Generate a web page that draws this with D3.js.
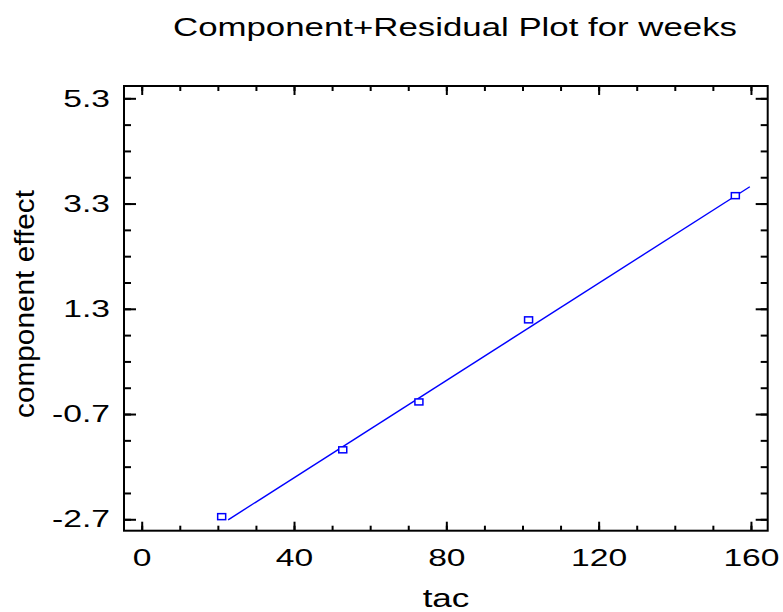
<!DOCTYPE html>
<html>
<head>
<meta charset="utf-8">
<script src="https://cdn.jsdelivr.net/npm/d3@7"></script>
<style>
  body { margin: 0; background: #fff; }
  svg { display: block; }
  text { font-family: Arial, "Liberation Sans", sans-serif; fill: #000; }
</style>
</head>
<body>
<div id="chart"></div>
<script>
// data
const tac = [21.0, 52.8, 72.8, 101.6, 155.9];
const effect = [-2.65, -1.38, -0.47, 1.09, 3.45];
// fitted component line (end points)
const fitTac = [22.7, 159.7];
const fitEffect = [-2.71, 3.62];
// tick values
const xMajor = [0, 40, 80, 120, 160];
const xMinor = d3.range(0, 161, 10);
const yMajor = [-2.7, -0.7, 1.3, 3.3, 5.3];
const yMinor = d3.range(-2.7, 5.31, 0.5);

const W = 783, H = 612;
const box = { left: 124, right: 767.7, top: 86, bottom: 530.7 };
const stretch = 1.4; // text in the picture is wide

const svg = d3.select("#chart").append("svg")
  .attr("width", W)
  .attr("height", H);

const x = d3.scaleLinear().domain([-4.65, 164.4]).range([box.left, box.right]);
const y = d3.scaleLinear().domain([-2.917, 5.534]).range([box.bottom, box.top]);

function widen(sel, f) {
  sel.each(function () {
    const w = this.getComputedTextLength();
    this.setAttribute("textLength", w * f);
    this.setAttribute("lengthAdjust", "spacingAndGlyphs");
  });
}

function styleAxis(g) {
  g.select(".domain").remove();
  g.selectAll("line").attr("stroke", "#000").attr("stroke-width", 2);
  g.attr("font-family", null).attr("font-size", null);
  g.selectAll("text").style("font-size", "24px");
}

const yFmt = d => d.toFixed(1); // plain hyphen minus like the original

// bottom axis: minor then major with labels
svg.append("g").attr("transform", `translate(0,${box.bottom})`)
  .call(d3.axisBottom(x).tickValues(xMinor).tickFormat("").tickSizeInner(-5).tickSizeOuter(0))
  .call(styleAxis);
const xAx = svg.append("g").attr("transform", `translate(0,${box.bottom})`)
  .call(d3.axisBottom(x).tickValues(xMajor).tickFormat(d => String(d)).tickSizeInner(-9).tickSizeOuter(0).tickPadding(18))
  .call(styleAxis);

// top axis mirror
svg.append("g").attr("transform", `translate(0,${box.top})`)
  .call(d3.axisTop(x).tickValues(xMinor).tickFormat("").tickSizeInner(-5).tickSizeOuter(0))
  .call(styleAxis);
svg.append("g").attr("transform", `translate(0,${box.top})`)
  .call(d3.axisTop(x).tickValues(xMajor).tickFormat("").tickSizeInner(-9).tickSizeOuter(0))
  .call(styleAxis);

// left axis
svg.append("g").attr("transform", `translate(${box.left},0)`)
  .call(d3.axisLeft(y).tickValues(yMinor).tickFormat("").tickSizeInner(-7).tickSizeOuter(0))
  .call(styleAxis);
const yAx = svg.append("g").attr("transform", `translate(${box.left},0)`)
  .call(d3.axisLeft(y).tickValues(yMajor).tickFormat(yFmt).tickSizeInner(-12).tickSizeOuter(0).tickPadding(14))
  .call(styleAxis);

// right axis mirror
svg.append("g").attr("transform", `translate(${box.right},0)`)
  .call(d3.axisRight(y).tickValues(yMinor).tickFormat("").tickSizeInner(-7).tickSizeOuter(0))
  .call(styleAxis);
svg.append("g").attr("transform", `translate(${box.right},0)`)
  .call(d3.axisRight(y).tickValues(yMajor).tickFormat("").tickSizeInner(-12).tickSizeOuter(0))
  .call(styleAxis);

widen(xAx.selectAll("text"), stretch);
widen(yAx.selectAll("text"), stretch);

// frame
svg.append("rect")
  .attr("x", box.left).attr("y", box.top)
  .attr("width", box.right - box.left).attr("height", box.bottom - box.top)
  .attr("fill", "none").attr("stroke", "#000").attr("stroke-width", 2);

// fitted line
const line = d3.line().x(d => x(d[0])).y(d => y(d[1]));
svg.append("path")
  .datum(d3.zip(fitTac, fitEffect))
  .attr("fill", "none")
  .attr("stroke", "#0000ff")
  .attr("stroke-width", 1.4)
  .attr("d", line);

// points (small wide squares)
svg.selectAll(".pt")
  .data(d3.zip(tac, effect))
  .join("rect")
  .attr("class", "pt")
  .attr("x", d => x(d[0]) - 4)
  .attr("y", d => y(d[1]) - 3)
  .attr("width", 8)
  .attr("height", 6)
  .attr("fill", "#fff")
  .attr("stroke", "#0000ff")
  .attr("stroke-width", 1.5);

// title and axis titles
svg.append("text")
  .attr("x", 455).attr("y", 36)
  .attr("text-anchor", "middle")
  .style("font-size", "25px")
  .attr("textLength", 564)
  .attr("lengthAdjust", "spacingAndGlyphs")
  .text("Component+Residual Plot for weeks");

const xt = svg.append("text")
  .attr("x", 446).attr("y", 607)
  .attr("text-anchor", "middle")
  .style("font-size", "25px")
  .text("tac");
widen(xt, stretch);

svg.append("text")
  .attr("transform", "translate(34,304) rotate(-90)")
  .attr("text-anchor", "middle")
  .style("font-size", "27px")
  .attr("textLength", 228)
  .attr("lengthAdjust", "spacingAndGlyphs")
  .text("component effect");
</script>
</body>
</html>
